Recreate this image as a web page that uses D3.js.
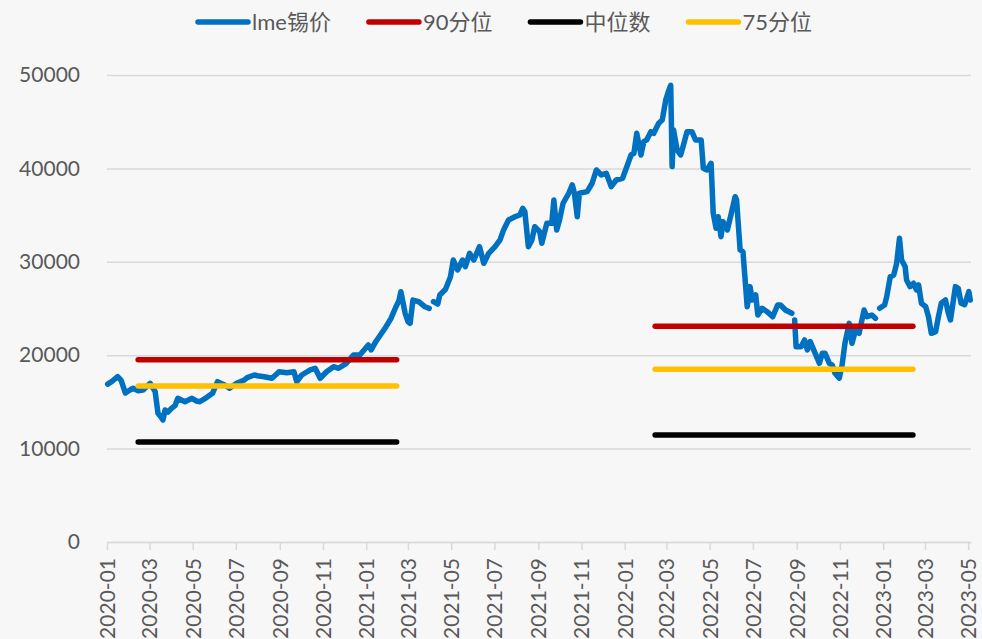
<!DOCTYPE html>
<html>
<head>
<meta charset="utf-8">
<script src="https://cdn.jsdelivr.net/npm/d3@7"></script>
<style>
  body { margin: 0; background: #f7f7f7; }
  svg { display: block; }
  text { font-family: Lato, "Noto Sans CJK SC", sans-serif; fill: #595959; }
</style>
</head>
<body>
<svg id="chart" width="982" height="639"></svg>
<script>
// lme tin price (null = gap in the data)
const lme2020 = [
  ["2020-01-02", 16900], ["2020-01-08", 17200], ["2020-01-16", 17700], ["2020-01-21", 17300],
  ["2020-01-27", 15950], ["2020-02-03", 16300], ["2020-02-07", 16460], ["2020-02-14", 16200],
  ["2020-02-21", 16270], ["2020-03-02", 16990], ["2020-03-09", 16090], ["2020-03-13", 13780],
  ["2020-03-17", 13400], ["2020-03-20", 13060], ["2020-03-23", 14130], ["2020-03-27", 13900],
  ["2020-04-01", 14310], ["2020-04-06", 14600], ["2020-04-10", 15380], ["2020-04-20", 15020],
  ["2020-04-30", 15380], ["2020-05-06", 15100], ["2020-05-11", 15020], ["2020-05-21", 15490],
  ["2020-05-29", 15920], ["2020-06-05", 17160], ["2020-06-15", 16810], ["2020-06-22", 16460],
  ["2020-07-02", 16990], ["2020-07-13", 17350], ["2020-07-17", 17600], ["2020-07-27", 17880],
  ["2020-07-31", 17800], ["2020-08-10", 17700], ["2020-08-21", 17530], ["2020-08-31", 18230],
  ["2020-09-11", 18130], ["2020-09-21", 18230], ["2020-09-25", 17160], ["2020-10-02", 17880],
  ["2020-10-14", 18420], ["2020-10-21", 18600], ["2020-10-28", 17530], ["2020-11-06", 18230],
  ["2020-11-16", 18770], ["2020-11-23", 18600], ["2020-12-04", 19130], ["2020-12-14", 20020],
  ["2020-12-23", 20020]
];
const lme2021 = [
  ["2021-01-04", 21090], ["2021-01-08", 20560], ["2021-01-15", 21500], ["2021-01-21", 22160],
  ["2021-01-29", 23050], ["2021-02-05", 23950], ["2021-02-12", 25190], ["2021-02-16", 25800],
  ["2021-02-19", 26800], ["2021-02-25", 24490], ["2021-03-01", 23600], ["2021-03-04", 23410],
  ["2021-03-08", 25900], ["2021-03-16", 25730], ["2021-03-25", 25190], ["2021-03-31", 25020],
  ["2021-04-02", null], ["2021-04-06", 25730], ["2021-04-12", 25480], ["2021-04-15", 26450],
  ["2021-04-23", 27060], ["2021-04-30", 28400], ["2021-05-04", 30190], ["2021-05-10", 29120],
  ["2021-05-17", 30190], ["2021-05-21", 29480], ["2021-05-27", 30910], ["2021-06-02", 30190],
  ["2021-06-10", 31620], ["2021-06-16", 29840], ["2021-06-23", 30910], ["2021-07-02", 31620],
  ["2021-07-09", 32340], ["2021-07-14", 33410], ["2021-07-21", 34480], ["2021-07-30", 34830],
  ["2021-08-06", 35010], ["2021-08-10", 35730], ["2021-08-13", 35370], ["2021-08-18", 31620],
  ["2021-08-23", 32340], ["2021-08-27", 33760], ["2021-09-03", 33230], ["2021-09-06", 31980],
  ["2021-09-13", 34120], ["2021-09-20", 34120], ["2021-09-23", 36620], ["2021-09-27", 33410],
  ["2021-10-01", 34480], ["2021-10-06", 36270], ["2021-10-14", 37340], ["2021-10-19", 38230],
  ["2021-10-22", 37340], ["2021-10-26", 34830], ["2021-10-29", 37340], ["2021-11-09", 37510],
  ["2021-11-16", 38410], ["2021-11-22", 39830], ["2021-11-29", 39300], ["2021-12-06", 39480],
  ["2021-12-13", 38050], ["2021-12-20", 38760], ["2021-12-29", 38940]
];
const lme2022 = [
  ["2022-01-04", 40180], ["2022-01-10", 41440], ["2022-01-14", 41620], ["2022-01-18", 43760],
  ["2022-01-24", 41440], ["2022-01-28", 42860], ["2022-02-01", 43040], ["2022-02-07", 43930],
  ["2022-02-11", 43760], ["2022-02-18", 44830], ["2022-02-23", 45180], ["2022-02-28", 47330],
  ["2022-03-04", 48300], ["2022-03-07", 48900], ["2022-03-09", 40200], ["2022-03-11", 44110],
  ["2022-03-16", 41970], ["2022-03-21", 41440], ["2022-03-25", 42510], ["2022-03-30", 43930],
  ["2022-04-06", 43930], ["2022-04-11", 43040], ["2022-04-19", 43040], ["2022-04-22", 40010],
  ["2022-04-27", 39830], ["2022-05-03", 40540], ["2022-05-06", 35190], ["2022-05-10", 33590],
  ["2022-05-13", 34830], ["2022-05-17", 32690], ["2022-05-20", 34300], ["2022-05-26", 33410],
  ["2022-05-31", 35010], ["2022-06-06", 36970], ["2022-06-08", 36620], ["2022-06-13", 31270],
  ["2022-06-17", 31080], ["2022-06-23", 25190], ["2022-06-27", 27340], ["2022-06-30", 25910],
  ["2022-07-05", 26450], ["2022-07-08", 24300], ["2022-07-14", 25020], ["2022-07-21", 24660],
  ["2022-07-29", 24120], ["2022-08-05", 25380], ["2022-08-09", 25380], ["2022-08-16", 24840],
  ["2022-08-25", 24490], ["2022-08-26", null], ["2022-08-29", 23770], ["2022-08-31", 20910],
  ["2022-09-07", 20910], ["2022-09-12", 21630], ["2022-09-16", 20560], ["2022-09-20", 21450],
  ["2022-09-27", 20200], ["2022-10-03", 19130], ["2022-10-07", 20200], ["2022-10-11", 20200],
  ["2022-10-17", 19130], ["2022-10-21", 18950], ["2022-10-25", 18060], ["2022-10-31", 17530],
  ["2022-11-04", 18950], ["2022-11-08", 21270], ["2022-11-14", 23410], ["2022-11-18", 21270],
  ["2022-11-23", 22700], ["2022-11-28", 22340], ["2022-12-05", 24840], ["2022-12-09", 24120],
  ["2022-12-16", 24300], ["2022-12-21", 23950], ["2022-12-23", null], ["2022-12-27", 25020]
];
const lme2023 = [
  ["2023-01-03", 25380], ["2023-01-06", 26270], ["2023-01-11", 28400], ["2023-01-16", 28590],
  ["2023-01-20", 29840], ["2023-01-24", 32520], ["2023-01-27", 30190], ["2023-02-01", 29480],
  ["2023-02-03", 28050], ["2023-02-08", 27340], ["2023-02-13", 27700], ["2023-02-17", 26980],
  ["2023-02-20", 27520], ["2023-02-24", 25560], ["2023-03-02", 25190], ["2023-03-06", 24120],
  ["2023-03-10", 22340], ["2023-03-16", 22520], ["2023-03-20", 24120], ["2023-03-24", 25560],
  ["2023-03-30", 25910], ["2023-04-03", 24490], ["2023-04-06", 23770], ["2023-04-13", 27340],
  ["2023-04-17", 27160], ["2023-04-21", 25560], ["2023-04-26", 25400], ["2023-05-02", 26800],
  ["2023-05-04", 25900]
];

// percentile reference lines, one value per window
const windows = [["2020-02-14", "2021-02-13"], ["2022-02-13", "2023-02-12"]];
const pct90 = [19500, 23100];
const median = [10700, 11450];
const pct75 = [16700, 18500];

const seriesNames = ["lme锡价", "90分位", "中位数", "75分位"];
const colors = ["#0070C0", "#C00000", "#000000", "#FFC000"];

const parseDate = d3.timeParse("%Y-%m-%d");
const lme = [...lme2020, ...lme2021, ...lme2022, ...lme2023].map(([d, v]) => ({
  date: parseDate(d),
  value: v,
}));

const svg = d3.select("#chart");
const margin = { top: 75, right: 11, bottom: 97, left: 107 };
const width = +svg.attr("width");
const height = +svg.attr("height");

const x = d3
  .scaleTime()
  .domain([parseDate("2020-01-01"), parseDate("2023-05-05")])
  .range([margin.left, width - margin.right]);

const y = d3
  .scaleLinear()
  .domain([0, 50000])
  .range([height - margin.bottom, margin.top]);

// Y gridlines + labels
svg
  .append("g")
  .attr("transform", `translate(${margin.left},0)`)
  .call(
    d3
      .axisLeft(y)
      .tickValues(d3.range(0, 50001, 10000))
      .tickFormat(d3.format("d"))
      .tickSize(-(width - margin.left - margin.right))
      .tickPadding(27)
  )
  .call((g) => g.select(".domain").remove())
  .call((g) => g.selectAll("line").attr("stroke", "#d9d9d9").attr("stroke-width", 1.5))
  .call((g) =>
    g.selectAll("text").attr("font-size", 21).attr("font-family", null).attr("fill", "#595959")
  );

// X axis
svg
  .append("g")
  .attr("transform", `translate(0,${height - margin.bottom})`)
  .call(
    d3
      .axisBottom(x)
      .ticks(d3.timeMonth.every(2))
      .tickFormat(d3.timeFormat("%Y-%m"))
      .tickSize(8)
      .tickSizeOuter(0)
  )
  .call((g) => g.select(".domain").attr("stroke", "#d9d9d9").attr("stroke-width", 1.5))
  .call((g) => g.selectAll("line").attr("stroke", "#d9d9d9").attr("stroke-width", 1.5))
  .call((g) =>
    g
      .selectAll("text")
      .attr("font-size", 21)
      .attr("font-family", null)
      .attr("fill", "#595959")
      .attr("transform", "rotate(-90)")
      .attr("text-anchor", "end")
      .attr("x", -16)
      .attr("y", 0)
      .attr("dy", "0.35em")
  );

// Price line
const line = d3
  .line()
  .defined((d) => d.value != null)
  .x((d) => x(d.date))
  .y((d) => y(d.value));

svg
  .append("path")
  .datum(lme)
  .attr("fill", "none")
  .attr("stroke", colors[0])
  .attr("stroke-width", 5.5)
  .attr("stroke-linejoin", "round")
  .attr("stroke-linecap", "round")
  .attr("d", line);

// Percentile lines
[pct90, median, pct75].forEach((vals, k) => {
  windows.forEach((w, i) => {
    svg
      .append("line")
      .attr("x1", x(parseDate(w[0])))
      .attr("x2", x(parseDate(w[1])))
      .attr("y1", y(vals[i]))
      .attr("y2", y(vals[i]))
      .attr("stroke", colors[k + 1])
      .attr("stroke-width", 5.5)
      .attr("stroke-linecap", "round");
  });
});

// Legend
const legend = svg.append("g");
const lineLen = 54;
const itemGap = 36;
let cursor = 0;
seriesNames.forEach((name, i) => {
  const item = legend.append("g").attr("transform", `translate(${cursor},0)`);
  item
    .append("line")
    .attr("x1", 2)
    .attr("x2", lineLen - 2)
    .attr("stroke", colors[i])
    .attr("stroke-width", 5.5)
    .attr("stroke-linecap", "round");
  const t = item
    .append("text")
    .attr("x", lineLen + 2)
    .attr("dy", "0.35em")
    .attr("font-size", 22)
    .text(name);
  cursor += lineLen + 2 + t.node().getComputedTextLength() + itemGap;
});
cursor -= itemGap;
legend.attr("transform", `translate(${504 - cursor / 2},22)`);
</script>
</body>
</html>
